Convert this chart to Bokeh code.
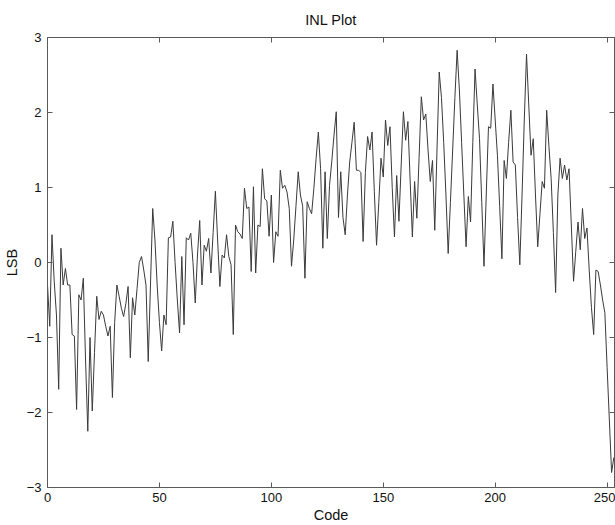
from bokeh.plotting import figure
from bokeh.models import Range1d, LinearAxis, FixedTicker, CustomJSTickFormatter
from bokeh.embed import file_html
from bokeh.resources import INLINE

codes = list(range(0, 254))
inl = [
    -0.30, -0.85, 0.37, -0.25, -0.70, -1.69, 0.19, -0.30, -0.08, -0.30,
    -0.30, -0.96, -0.98, -1.96, -0.43, -0.50, -0.21, -1.30, -2.25, -1.00,
    -1.98, -1.20, -0.45, -0.76, -0.65, -0.70, -0.85, -0.98, -0.85, -1.80,
    -0.80, -0.30, -0.45, -0.61, -0.72, -0.55, -0.32, -1.27, -0.47, -0.70,
    -0.35, 0.00, 0.08, -0.10, -0.30, -1.32, -0.30, 0.72, 0.30, -0.30,
    -0.80, -1.18, -0.70, -0.83, 0.33, 0.34, 0.55, 0.00, -0.50, -0.94,
    0.08, -0.83, 0.33, 0.30, 0.39, 0.00, -0.54, 0.10, 0.56, -0.30,
    0.23, 0.15, 0.32, -0.14, 0.40, 0.95, 0.30, -0.32, 0.10, 0.06,
    0.37, 0.08, -0.03, -0.96, 0.50, 0.41, 0.38, 0.32, 0.99, 0.72,
    0.74, -0.12, 1.01, -0.14, 0.50, 0.48, 1.25, 0.85, 0.82, 0.35,
    0.90, 0.00, 0.41, 0.35, 1.23, 0.99, 1.03, 0.94, 0.72, -0.05,
    0.30, 0.75, 1.21, 0.90, 0.75, -0.21, 0.81, 0.72, 0.65, 0.99,
    1.39, 1.74, 1.25, 0.19, 1.21, 0.32, 1.03, 1.35, 1.70, 2.01,
    0.60, 1.21, 0.60, 0.37, 0.90, 1.34, 1.60, 1.87, 1.23, 1.23,
    1.20, 0.28, 1.20, 1.68, 1.50, 1.74, 0.95, 0.23, 0.80, 1.39,
    1.14, 1.90, 1.56, 1.81, 1.00, 0.34, 1.16, 0.55, 1.30, 2.01,
    1.63, 1.88, 1.10, 0.34, 1.08, 0.59, 1.40, 2.21, 1.90, 1.98,
    1.50, 1.08, 1.36, 0.43, 1.50, 2.54, 2.20, 1.60, 0.90, 0.12,
    0.80, 1.50, 2.20, 2.83, 2.30, 1.60, 0.90, 0.21, 0.88, 0.54,
    1.60, 2.58, 2.10, 1.65, 0.80, -0.05, 0.90, 1.81, 1.79, 2.38,
    1.90, 1.43, 0.75, 0.05, 1.36, 1.12, 1.60, 2.03, 1.34, 1.30,
    0.60, -0.03, 0.90, 1.90, 2.78, 2.10, 1.43, 1.65, 0.90, 0.21,
    0.65, 1.08, 0.99, 2.03, 1.55, 1.12, 0.40, -0.40, 0.90, 1.39,
    1.12, 1.30, 1.10, 1.25, 0.50, -0.25, 0.15, 0.54, 0.17, 0.72,
    0.32, 0.46, -0.10, -0.60, -0.96, -0.10, -0.12, -0.30, -0.50, -0.67,
    -1.40, -2.10, -2.80, -2.60,
]
x_ticks = [0, 50, 100, 150, 200, 250]
y_ticks = [-3, -2, -1, 0, 1, 2, 3]

FONT = "Liberation Sans"
AX = "#5a5a5a"
TXT = "#111111"

p = figure(width=615, height=525, output_backend="svg", toolbar_location=None,
           x_range=Range1d(0, 253.3), y_range=Range1d(-3, 3),
           title="INL Plot", min_border_left=47, min_border_right=1,
           min_border_top=36, min_border_bottom=36, x_axis_location=None,
           y_axis_location=None)
p.grid.visible = False
p.outline_line_color = AX
p.outline_line_width = 1
p.background_fill_color = "white"
p.border_fill_color = "white"

p.title.align = "center"
p.title.text_font = FONT
p.title.text_font_size = "14.5px"
p.title.text_font_style = "normal"
p.title.text_color = TXT
p.title.standoff = 19


def style(ax):
    ax.axis_line_color = AX
    ax.major_tick_line_color = AX
    ax.major_tick_in = 5
    ax.major_tick_out = 0
    ax.minor_tick_line_color = None
    ax.major_label_text_font = FONT
    ax.major_label_text_font_size = "13px"
    ax.major_label_text_color = TXT
    ax.axis_label_text_font = FONT
    ax.axis_label_text_font_size = "14.5px"
    ax.axis_label_text_font_style = "normal"
    ax.axis_label_text_color = TXT


xb = LinearAxis(ticker=FixedTicker(ticks=x_ticks), axis_label="Code")
style(xb)
xb.major_label_standoff = 5
xb.axis_label_standoff = 2
yl = LinearAxis(ticker=FixedTicker(ticks=y_ticks), axis_label="LSB")
style(yl)
yl.major_label_standoff = 6
yl.axis_label_standoff = 4

blank = CustomJSTickFormatter(code="return ''")
xt = LinearAxis(ticker=FixedTicker(ticks=x_ticks), formatter=blank)
style(xt)
xt.major_label_standoff = 0
yr = LinearAxis(ticker=FixedTicker(ticks=y_ticks), formatter=blank)
style(yr)
yr.major_label_standoff = 0

p.add_layout(xb, "below")
p.add_layout(yl, "left")
p.add_layout(xt, "above")
p.add_layout(yr, "right")

p.line(codes, inl, line_color="#3a3a3a", line_width=1)

open("out.html", "w").write(file_html(p, INLINE))
